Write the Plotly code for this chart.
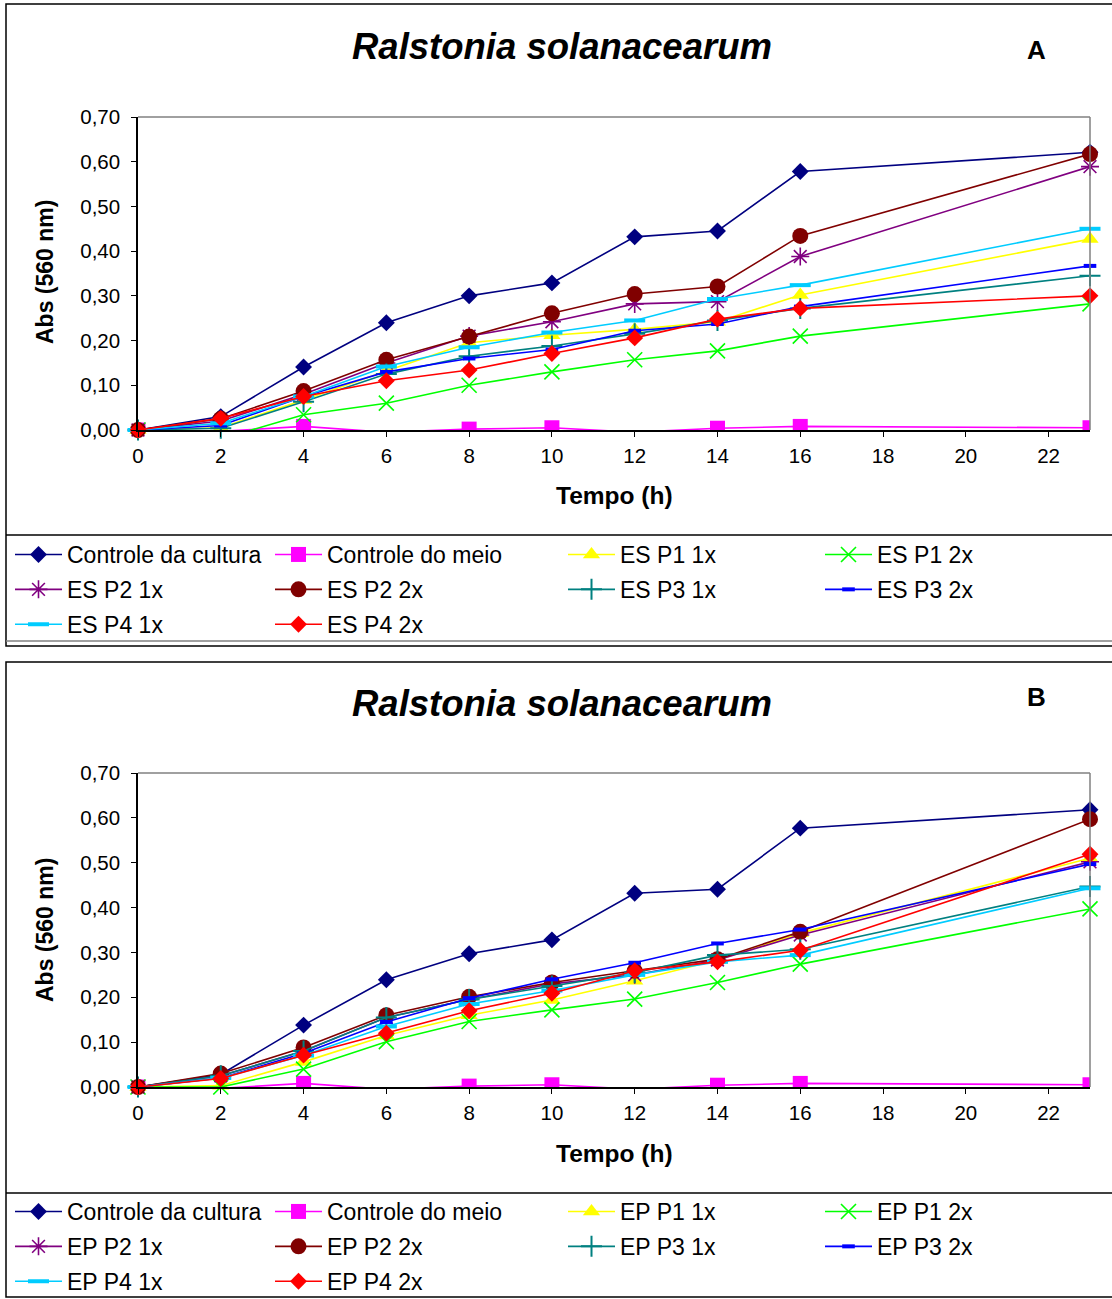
import plotly.graph_objects as go

W, H = 1112, 1299

tempo = [0, 2, 4, 6, 8, 10, 12, 14, 16, 23]
x_ticks = [0, 2, 4, 6, 8, 10, 12, 14, 16, 18, 20, 22]
y_ticks = [0.0, 0.1, 0.2, 0.3, 0.4, 0.5, 0.6, 0.7]
y_tick_labels = ["0,00", "0,10", "0,20", "0,30", "0,40", "0,50", "0,60", "0,70"]

names_a = ["Controle da cultura", "Controle do meio", "ES P1 1x", "ES P1 2x", "ES P2 1x",
           "ES P2 2x", "ES P3 1x", "ES P3 2x", "ES P4 1x", "ES P4 2x"]
names_b = ["Controle da cultura", "Controle do meio", "EP P1 1x", "EP P1 2x", "EP P2 1x",
           "EP P2 2x", "EP P3 1x", "EP P3 2x", "EP P4 1x", "EP P4 2x"]

# Panel A (ES)
a_controle_cultura = [0.00, 0.030, 0.141, 0.240, 0.300, 0.329, 0.432, 0.445, 0.578, 0.621]
a_controle_meio = [0.00, -0.003, 0.008, -0.005, 0.002, 0.005, -0.005, 0.004, 0.008, 0.005]
a_es_p1_1x = [0.00, 0.005, 0.067, 0.132, 0.195, 0.212, 0.225, 0.242, 0.302, 0.427]
a_es_p1_2x = [0.00, -0.020, 0.034, 0.060, 0.100, 0.130, 0.157, 0.177, 0.210, 0.282]
a_es_p2_1x = [0.00, 0.020, 0.080, 0.150, 0.210, 0.242, 0.282, 0.287, 0.388, 0.589]
a_es_p2_2x = [0.00, 0.025, 0.087, 0.157, 0.209, 0.261, 0.304, 0.321, 0.434, 0.617]
a_es_p3_1x = [0.00, 0.004, 0.063, 0.125, 0.165, 0.188, 0.215, 0.245, 0.272, 0.345]
a_es_p3_2x = [0.00, 0.010, 0.075, 0.130, 0.160, 0.180, 0.222, 0.237, 0.276, 0.367]
a_es_p4_1x = [0.00, 0.015, 0.075, 0.142, 0.185, 0.218, 0.245, 0.293, 0.324, 0.450]
a_es_p4_2x = [0.00, 0.026, 0.075, 0.110, 0.134, 0.171, 0.206, 0.248, 0.272, 0.300]

# Panel B (EP)
b_controle_cultura = [0.00, 0.028, 0.138, 0.239, 0.297, 0.328, 0.432, 0.441, 0.577, 0.618]
b_controle_meio = [0.00, -0.003, 0.008, -0.005, 0.002, 0.005, -0.005, 0.004, 0.008, 0.005]
b_ep_p1_1x = [0.00, 0.003, 0.056, 0.115, 0.160, 0.194, 0.237, 0.283, 0.343, 0.510]
b_ep_p1_2x = [0.00, 0.000, 0.040, 0.101, 0.146, 0.172, 0.196, 0.233, 0.274, 0.397]
b_ep_p2_1x = [0.00, 0.025, 0.080, 0.155, 0.195, 0.230, 0.250, 0.283, 0.339, 0.502]
b_ep_p2_2x = [0.00, 0.030, 0.088, 0.160, 0.201, 0.233, 0.259, 0.285, 0.346, 0.597]
b_ep_p3_1x = [0.00, 0.025, 0.080, 0.155, 0.195, 0.225, 0.255, 0.294, 0.307, 0.447]
b_ep_p3_2x = [0.00, 0.020, 0.075, 0.145, 0.198, 0.240, 0.277, 0.320, 0.351, 0.497]
b_ep_p4_1x = [0.00, 0.020, 0.070, 0.135, 0.185, 0.215, 0.250, 0.279, 0.294, 0.443]
b_ep_p4_2x = [0.00, 0.019, 0.071, 0.120, 0.170, 0.209, 0.259, 0.279, 0.305, 0.519]

series_a = [a_controle_cultura, a_controle_meio, a_es_p1_1x, a_es_p1_2x, a_es_p2_1x,
            a_es_p2_2x, a_es_p3_1x, a_es_p3_2x, a_es_p4_1x, a_es_p4_2x]
series_b = [b_controle_cultura, b_controle_meio, b_ep_p1_1x, b_ep_p1_2x, b_ep_p2_1x,
            b_ep_p2_2x, b_ep_p3_1x, b_ep_p3_2x, b_ep_p4_1x, b_ep_p4_2x]

colors = ["#000080", "#FF00FF", "#FFFF00", "#00FF00", "#800080",
          "#800000", "#008080", "#0000FF", "#00CCFF", "#FF0000"]
markers = [
    dict(symbol="diamond", size=13),
    dict(symbol="square", size=15),
    dict(symbol="triangle-up", size=15),
    dict(symbol="x-thin-open", size=15, line=dict(width=1.6)),
    dict(symbol="asterisk-open", size=15, line=dict(width=1.6)),
    dict(symbol="circle", size=16),
    dict(symbol="cross-thin-open", size=15, line=dict(width=2)),
    dict(symbol="line-ew-open", size=9, line=dict(width=4)),
    dict(symbol="line-ew-open", size=15, line=dict(width=4)),
    dict(symbol="diamond", size=13),
]
# legend column for each series (0..3)
legend_col = [0, 1, 2, 3, 0, 1, 2, 3, 0, 1]


def px_x(p):
    return p / W


def px_y(p):
    return 1 - p / H


fig = go.Figure()

for panel, (names, series, xa, ya) in enumerate([(names_a, series_a, "x", "y"),
                                                  (names_b, series_b, "x2", "y2")]):
    for i, (nm, vals) in enumerate(zip(names, series)):
        mk = dict(markers[i])
        mk["color"] = colors[i]
        if "line" in mk:
            mk["line"] = dict(mk["line"], color=colors[i])
        leg_idx = panel * 4 + legend_col[i] + 1
        # markers of points below the axis minimum stay hidden, as in the original
        clip = min(vals) < 0
        fig.add_trace(go.Scatter(
            x=tempo, y=vals, name=nm, mode="lines+markers",
            line=dict(color=colors[i], width=1.6),
            marker=mk, xaxis=xa, yaxis=ya, cliponaxis=clip,
            legend="legend" if leg_idx == 1 else f"legend{leg_idx}",
            legendgroup=f"p{panel}s{i}",
        ))

font_family = "Liberation Sans, Arial, sans-serif"

axis_common = dict(showgrid=False, zeroline=False, showline=True, linecolor="black",
                   linewidth=1.5, ticks="outside", ticklen=5, tickwidth=1.2, automargin=False,
                   tickcolor="black", tickfont=dict(family=font_family, size=20.5, color="black"))

x_dom = [px_x(138), px_x(1090)]
layout = dict(
    width=W, height=H,
    margin=dict(l=0, r=0, t=0, b=0, pad=0, autoexpand=False),
    paper_bgcolor="white", plot_bgcolor="white",
    xaxis=dict(domain=x_dom, range=[0, 23], tickvals=x_ticks, ticktext=[str(v) for v in x_ticks],
               anchor="y", ticklabelstandoff=2, **axis_common),
    yaxis=dict(domain=[px_y(430), px_y(117)], range=[0, 0.70], tickvals=y_ticks,
               ticktext=y_tick_labels, anchor="x", ticklabelstandoff=7, **axis_common),
    xaxis2=dict(domain=x_dom, range=[0, 23], tickvals=x_ticks, ticktext=[str(v) for v in x_ticks],
                anchor="y2", ticklabelstandoff=2, **axis_common),
    yaxis2=dict(domain=[px_y(1087), px_y(773)], range=[0, 0.70], tickvals=y_ticks,
                ticktext=y_tick_labels, anchor="x2", ticklabelstandoff=7, **axis_common),
    showlegend=True,
)

col_x = [10, 270, 563, 820]
leg_top = [533, 1190]
for panel in range(2):
    for c in range(4):
        idx = panel * 4 + c + 1
        key = "legend" if idx == 1 else f"legend{idx}"
        layout[key] = dict(
            x=px_x(col_x[c]), y=px_y(leg_top[panel]), xanchor="left", yanchor="top",
            orientation="v", bgcolor="rgba(0,0,0,0)", borderwidth=0,
            font=dict(family=font_family, size=23, color="black"),
            itemwidth=47, tracegroupgap=2, itemsizing="trace", traceorder="grouped",
        )

fig.update_layout(**layout)

shapes = []
# top and right gray border of plot areas
for xa, ya in [("x", "y"), ("x2", "y2")]:
    shapes.append(dict(type="line", xref=f"{xa} domain", yref=f"{ya} domain", x0=0, x1=1, y0=1, y1=1,
                       line=dict(color="#808080", width=1.5)))
    shapes.append(dict(type="line", xref=f"{xa} domain", yref=f"{ya} domain", x0=1, x1=1, y0=0, y1=1,
                       line=dict(color="#808080", width=1.5)))
# outer boxes
for (top, sep, bot) in [(4, 535, 646), (662, 1193, 1297)]:
    shapes.append(dict(type="rect", xref="paper", yref="paper", x0=px_x(6), x1=px_x(1118),
                       y0=px_y(bot), y1=px_y(top), line=dict(color="black", width=1.5)))
    shapes.append(dict(type="line", xref="paper", yref="paper", x0=px_x(6), x1=px_x(1118),
                       y0=px_y(sep), y1=px_y(sep), line=dict(color="black", width=1.5)))
shapes.append(dict(type="line", xref="paper", yref="paper", x0=px_x(6), x1=px_x(1118),
                   y0=px_y(641), y1=px_y(641), line=dict(color="#808080", width=1.5)))
fig.update_layout(shapes=shapes)

annotations = []
for (ty, letter, ly, ay, xy) in [(46, "A", 50, 272, 495), (703, "B", 697, 930, 1153)]:
    annotations.append(dict(x=px_x(562), y=px_y(ty), xref="paper", yref="paper",
                            text="<b><i>Ralstonia solanacearum</i></b>", showarrow=False,
                            xanchor="center", yanchor="middle",
                            font=dict(family=font_family, size=36.5, color="black")))
    annotations.append(dict(x=px_x(1036), y=px_y(ly), xref="paper", yref="paper",
                            text=f"<b>{letter}</b>", showarrow=False,
                            xanchor="center", yanchor="middle",
                            font=dict(family=font_family, size=26, color="black")))
    annotations.append(dict(x=px_x(45), y=px_y(ay), xref="paper", yref="paper",
                            text="<b>Abs (560 nm)</b>", showarrow=False, textangle=-90,
                            xanchor="center", yanchor="middle",
                            font=dict(family=font_family, size=23, color="black")))
    annotations.append(dict(x=px_x(614), y=px_y(xy), xref="paper", yref="paper",
                            text="<b>Tempo (h)</b>", showarrow=False,
                            xanchor="center", yanchor="middle",
                            font=dict(family=font_family, size=24.5, color="black")))
fig.update_layout(annotations=annotations)

fig.write_html("out.html")
